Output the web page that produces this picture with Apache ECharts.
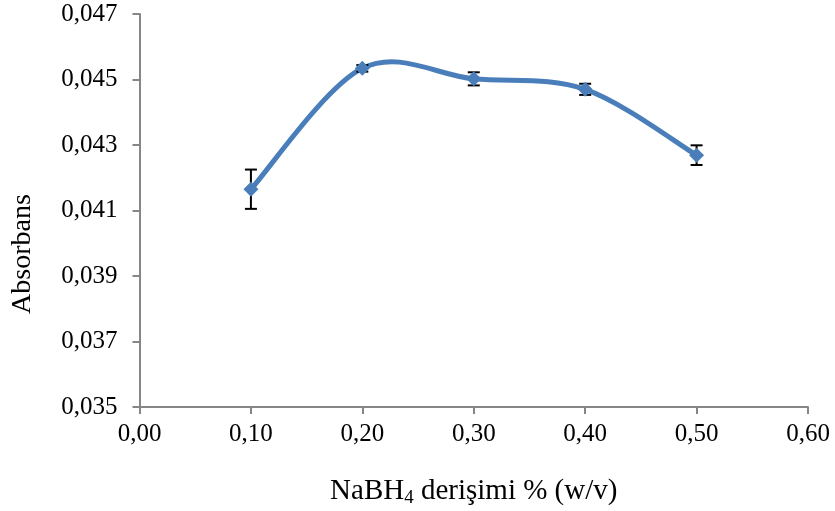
<!DOCTYPE html>
<html><head><meta charset="utf-8">
<script src="https://cdn.jsdelivr.net/npm/echarts@6/dist/echarts.min.js"></script>
<style>html,body{margin:0;padding:0;background:#fff}#c{width:835px;height:511px}</style>
</head><body><div id="c"></div>
<script>
const xValues = [0.10, 0.20, 0.30, 0.40, 0.50];
const absorbance = [0.04165, 0.04534, 0.04502, 0.04470, 0.04269];
const errors = [0.0006, 0.0001, 0.0002, 0.00017, 0.0003];
const xTicks = {min: 0, max: 0.6, interval: 0.1};
const yTicks = {min: 0.035, max: 0.047, interval: 0.002};

const lineData = xValues.map((x, i) => [x, absorbance[i]]);
const errData = xValues.map((x, i) => [x, absorbance[i] - errors[i], absorbance[i] + errors[i]]);
const font = '"Liberation Serif", "Times New Roman", serif';
const color = '#4A7EBB';
const chart = echarts.init(document.getElementById('c'));
chart.setOption({
  animation: false,
  grid: {left: 139.5, right: 27, top: 14, bottom: 104, containLabel: false, outerBoundsMode: 'none'},
  graphic: [{
    type: 'text', rotation: Math.PI / 2, x: 9, y: 254,
    style: {text: 'Absorbans', font: '28px ' + font, fill: '#000',
      textAlign: 'center', textVerticalAlign: 'top'}
  }],
  xAxis: {
    type: 'value', min: xTicks.min, max: xTicks.max, interval: xTicks.interval,
    splitLine: {show: false},
    axisLine: {onZero: false, lineStyle: {color: '#868686', width: 2}},
    axisTick: {show: true, length: 7, lineStyle: {color: '#868686', width: 2}},
    axisLabel: {fontFamily: font, fontSize: 25, color: '#000', margin: 15,
      formatter: v => v.toFixed(2).replace('.', ',')},
    name: '{a|NaBH}{s|4}{a| derişimi % (w/v)}',
    nameLocation: 'middle', nameGap: 68,
    nameTextStyle: {rich: {
      a: {fontFamily: font, fontSize: 29, color: '#000'},
      s: {fontFamily: font, fontSize: 19, color: '#000', padding: [14, 0, 0, 0]}
    }}
  },
  yAxis: {
    type: 'value', min: yTicks.min, max: yTicks.max, interval: yTicks.interval,
    splitLine: {show: false},
    axisLine: {show: true, lineStyle: {color: '#868686', width: 2}},
    axisTick: {show: true, length: 7, lineStyle: {color: '#868686', width: 2}},
    axisLabel: {fontFamily: font, fontSize: 25, color: '#000', margin: 22,
      formatter: v => v.toFixed(3).replace('.', ',')}
  },
  series: [
    {
      type: 'custom',
      data: [0],
      z: 1,
      silent: true,
      renderItem: function (params, api) {
        const p = lineData.map(d => api.coord(d));
        const n = p.length;
        const P = i => p[Math.max(0, Math.min(n - 1, i))];
        let d = 'M' + p[0][0] + ' ' + p[0][1];
        for (let i = 0; i < n - 1; i++) {
          const a = P(i - 1), b = P(i), c = P(i + 1), e = P(i + 2);
          const c1 = [b[0] + (c[0] - a[0]) / 6, b[1] + (c[1] - a[1]) / 6];
          const c2 = [c[0] - (e[0] - b[0]) / 6, c[1] - (e[1] - b[1]) / 6];
          d += ' C' + c1[0] + ' ' + c1[1] + ' ' + c2[0] + ' ' + c2[1] + ' ' + c[0] + ' ' + c[1];
        }
        return {type: 'path', shape: {pathData: d},
          style: {fill: 'none', stroke: color, lineWidth: 5, lineCap: 'round', lineJoin: 'round'}};
      }
    },
    {
      type: 'custom',
      data: errData,
      z: 2,
      renderItem: function (params, api) {
        const x = api.value(0);
        const lo = api.coord([x, api.value(1)]);
        const hi = api.coord([x, api.value(2)]);
        const w = 6;
        const st = {stroke: '#000', lineWidth: 2};
        return {type: 'group', children: [
          {type: 'line', shape: {x1: lo[0], y1: lo[1], x2: hi[0], y2: hi[1]}, style: st},
          {type: 'line', shape: {x1: lo[0] - w, y1: lo[1], x2: lo[0] + w, y2: lo[1]}, style: st},
          {type: 'line', shape: {x1: hi[0] - w, y1: hi[1], x2: hi[0] + w, y2: hi[1]}, style: st}
        ]};
      }
    },
    {
      type: 'scatter',
      data: lineData,
      z: 3,
      symbol: 'diamond', symbolSize: 15,
      itemStyle: {color: color, opacity: 1}
    }
  ]
});
</script></body></html>
